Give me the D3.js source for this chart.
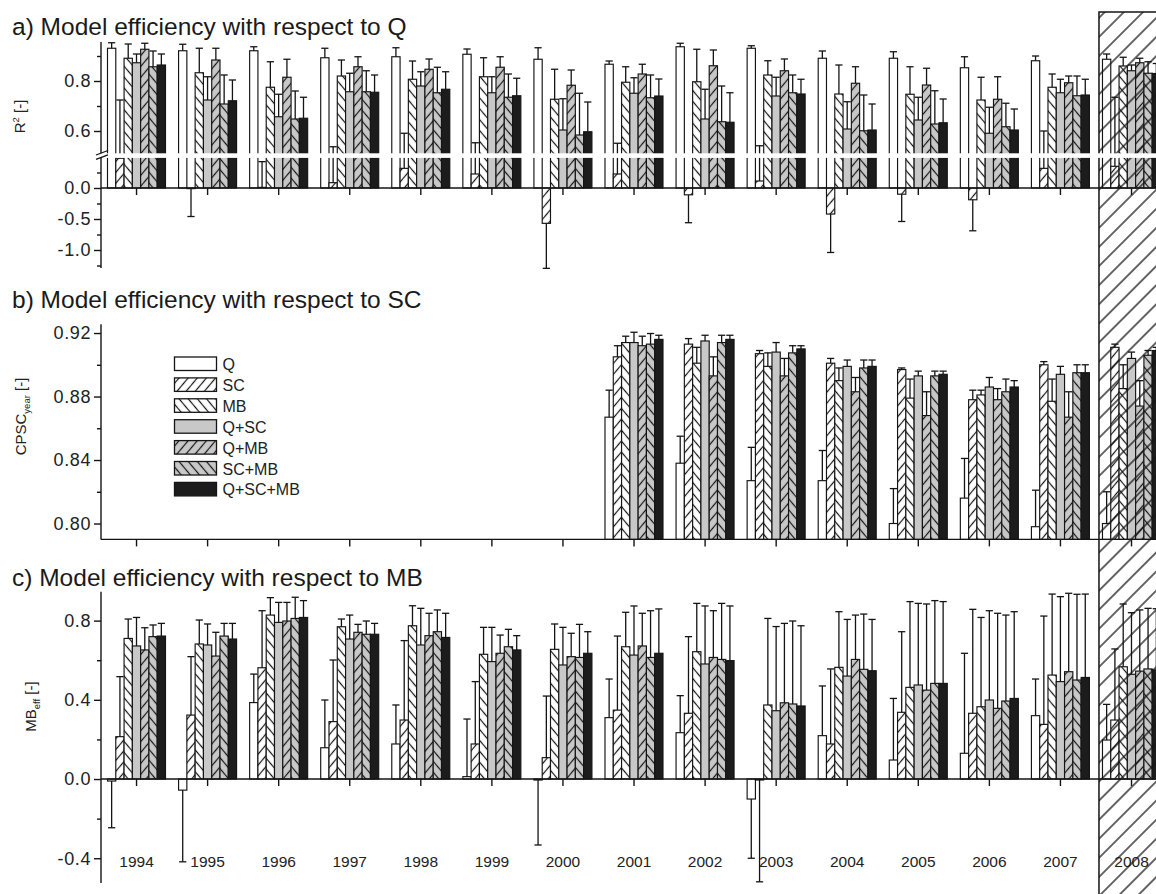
<!DOCTYPE html>
<html>
<head>
<meta charset="utf-8">
<script src="https://cdn.jsdelivr.net/npm/d3@7"></script>
<style>
  body { margin: 0; background: #fff; }
  svg { display: block; font-family: "Liberation Sans", Arial, Helvetica, sans-serif; }
</style>
</head>
<body>
<svg id="chart" width="1156" height="894"></svg>
<script>
// ---------- data ----------
const years = [1994, 1995, 1996, 1997, 1998, 1999, 2000, 2001, 2002, 2003, 2004, 2005, 2006, 2007, 2008];
const seriesNames = ["Q", "SC", "MB", "Q+SC", "Q+MB", "SC+MB", "Q+SC+MB"];

// a) R² — one row per calibration variant (order of seriesNames), one column per year
const r2Values = [
  [0.931, 0.921, 0.921, 0.893, 0.897, 0.907, 0.887, 0.867, 0.937, 0.931, 0.891, 0.891, 0.853, 0.881, 0.887],
  [0.48, -0.01, 0.01, 0.086, 0.317, 0.226, -0.57, 0.226, -0.11, 0.113, -0.42, -0.10, -0.19, 0.317, 0.35],
  [0.891, 0.833, 0.775, 0.82, 0.807, 0.817, 0.727, 0.795, 0.797, 0.824, 0.748, 0.747, 0.724, 0.775, 0.86],
  [0.873, 0.724, 0.657, 0.757, 0.78, 0.753, 0.604, 0.751, 0.648, 0.74, 0.608, 0.644, 0.591, 0.753, 0.841],
  [0.927, 0.884, 0.815, 0.857, 0.847, 0.855, 0.783, 0.828, 0.861, 0.841, 0.791, 0.784, 0.727, 0.793, 0.873],
  [0.857, 0.708, 0.648, 0.757, 0.753, 0.735, 0.584, 0.733, 0.637, 0.753, 0.601, 0.628, 0.617, 0.741, 0.831],
  [0.864, 0.721, 0.651, 0.755, 0.767, 0.741, 0.597, 0.74, 0.635, 0.748, 0.604, 0.633, 0.604, 0.744, 0.83]
];
// end value of each error bar
const r2ErrEnd = [
  [0.953, 0.947, 0.937, 0.931, 0.933, 0.928, 0.933, 0.88, 0.951, 0.941, 0.92, 0.917, 0.897, 0.90, 0.908],
  [0.724, -0.46, 0.425, 0.537, 0.591, 0.553, -1.296, 0.551, -0.56, 0.541, -1.04, -0.54, -0.69, 0.60, 0.735],
  [0.948, 0.931, 0.877, 0.884, 0.88, 0.893, 0.847, 0.857, 0.927, 0.881, 0.864, 0.857, 0.815, 0.828, 0.895],
  [0.908, 0.817, 0.747, 0.831, 0.837, 0.817, 0.729, 0.813, 0.767, 0.815, 0.717, 0.735, 0.695, 0.807, 0.864],
  [0.951, 0.931, 0.887, 0.897, 0.888, 0.897, 0.844, 0.867, 0.924, 0.888, 0.857, 0.851, 0.817, 0.82, 0.891],
  [0.92, 0.824, 0.76, 0.841, 0.855, 0.828, 0.751, 0.824, 0.78, 0.824, 0.744, 0.761, 0.711, 0.82, 0.877],
  [0.908, 0.804, 0.735, 0.824, 0.837, 0.811, 0.716, 0.808, 0.753, 0.807, 0.708, 0.728, 0.688, 0.807, 0.87]
];

// b) CPSC_year — no SC observations before 2001
const cpscValues = [
  [null, null, null, null, null, null, null, 0.867, 0.838, 0.827, 0.827, 0.800, 0.816, 0.798, 0.800],
  [null, null, null, null, null, null, null, 0.905, 0.913, 0.907, 0.901, 0.897, 0.878, 0.900, 0.911],
  [null, null, null, null, null, null, null, 0.914, 0.901, 0.899, 0.890, 0.879, 0.881, 0.877, 0.885],
  [null, null, null, null, null, null, null, 0.914, 0.915, 0.908, 0.899, 0.893, 0.886, 0.894, 0.904],
  [null, null, null, null, null, null, null, 0.912, 0.893, 0.893, 0.883, 0.868, 0.878, 0.867, 0.874],
  [null, null, null, null, null, null, null, 0.913, 0.914, 0.9075, 0.898, 0.893, 0.883, 0.895, 0.906],
  [null, null, null, null, null, null, null, 0.916, 0.916, 0.910, 0.899, 0.894, 0.886, 0.895, 0.909]
];
const cpscErrEnd = [
  [null, null, null, null, null, null, null, 0.884, 0.855, 0.848, 0.846, 0.822, 0.841, 0.821, 0.820],
  [null, null, null, null, null, null, null, 0.912, 0.9165, 0.909, 0.904, 0.898, 0.884, 0.902, 0.913],
  [null, null, null, null, null, null, null, 0.918, 0.911, 0.9075, 0.898, 0.891, 0.884, 0.891, 0.900],
  [null, null, null, null, null, null, null, 0.9205, 0.9186, 0.914, 0.903, 0.896, 0.892, 0.899, 0.908],
  [null, null, null, null, null, null, null, 0.918, 0.905, 0.904, 0.892, 0.883, 0.885, 0.883, 0.890],
  [null, null, null, null, null, null, null, 0.9197, 0.9186, 0.912, 0.903, 0.896, 0.891, 0.900, 0.909],
  [null, null, null, null, null, null, null, 0.9186, 0.9186, 0.912, 0.903, 0.896, 0.890, 0.900, 0.911]
];

// c) MB_eff
const mbValues = [
  [-0.01, -0.056, 0.386, 0.158, 0.177, 0.012, -0.005, 0.31, 0.234, -0.101, 0.219, 0.096, 0.13, 0.32, 0.197],
  [0.214, 0.323, 0.562, 0.29, 0.298, 0.177, 0.108, 0.348, 0.332, -0.005, 0.177, 0.337, 0.332, 0.276, 0.298],
  [0.71, 0.682, 0.828, 0.769, 0.774, 0.63, 0.655, 0.668, 0.643, 0.374, 0.564, 0.463, 0.365, 0.525, 0.567],
  [0.672, 0.677, 0.791, 0.707, 0.677, 0.593, 0.576, 0.626, 0.581, 0.345, 0.52, 0.475, 0.399, 0.492, 0.529],
  [0.652, 0.621, 0.798, 0.741, 0.724, 0.635, 0.618, 0.672, 0.614, 0.385, 0.604, 0.449, 0.357, 0.542, 0.545],
  [0.719, 0.722, 0.811, 0.731, 0.744, 0.668, 0.614, 0.614, 0.604, 0.379, 0.554, 0.483, 0.394, 0.5, 0.556],
  [0.722, 0.707, 0.816, 0.731, 0.715, 0.652, 0.635, 0.635, 0.598, 0.369, 0.547, 0.483, 0.407, 0.513, 0.551]
];
const mbErrEnd = [
  [-0.246, -0.418, 0.53, 0.399, 0.374, 0.303, -0.333, 0.505, 0.421, -0.40, 0.47, 0.407, 0.635, 0.505, 0.377],
  [0.517, 0.618, 0.85, 0.601, 0.699, 0.492, 0.419, 0.722, 0.719, -0.519, 0.556, 0.744, 0.857, 0.823, 0.657],
  [0.808, 0.803, 0.916, 0.808, 0.875, 0.766, 0.783, 0.842, 0.887, 0.811, 0.845, 0.896, 0.816, 0.934, 0.884],
  [0.816, 0.783, 0.892, 0.828, 0.862, 0.766, 0.766, 0.874, 0.874, 0.77, 0.806, 0.887, 0.85, 0.921, 0.84],
  [0.764, 0.741, 0.892, 0.781, 0.837, 0.727, 0.736, 0.837, 0.85, 0.786, 0.828, 0.884, 0.837, 0.938, 0.854],
  [0.778, 0.786, 0.918, 0.798, 0.854, 0.756, 0.781, 0.85, 0.887, 0.798, 0.833, 0.901, 0.828, 0.933, 0.862],
  [0.786, 0.786, 0.901, 0.786, 0.837, 0.724, 0.744, 0.859, 0.874, 0.774, 0.806, 0.896, 0.845, 0.934, 0.86]
];

const validationYear = 2008;

// ---------- setup ----------
const svg = d3.select("#chart");
const defs = svg.append("defs");
const INK = "#141414";
const GREY = "#c8c8c8";

function hatchPattern(id, angle, spacing, bg, sw) {
  const p = defs.append("pattern")
    .attr("id", id)
    .attr("patternUnits", "userSpaceOnUse")
    .attr("width", spacing).attr("height", spacing)
    .attr("patternTransform", `rotate(${angle})`);
  if (bg) p.append("rect").attr("width", spacing).attr("height", spacing).attr("fill", bg);
  p.append("line")
    .attr("x1", spacing / 2).attr("y1", -1)
    .attr("x2", spacing / 2).attr("y2", spacing + 1)
    .attr("stroke", INK).attr("stroke-width", sw);
}
hatchPattern("pSC", 40, 7, "#fff", 1.2);
hatchPattern("pMB", -40, 7, "#fff", 1.2);
hatchPattern("pQMB", 40, 7, GREY, 1.2);
hatchPattern("pSCMB", -40, 7, GREY, 1.2);
hatchPattern("pRegion", 45, 13.5, null, 1.3);

const fills = ["#fff", "url(#pSC)", "url(#pMB)", GREY, "url(#pQMB)", "url(#pSCMB)", "#1c1c1c"];

const x0 = d3.scaleBand().domain(years).range([101, 101 + 15 * 71.07]).padding(0);
const x1 = d3.scaleBand().domain(seriesNames).range([6.5, 64.5]).padding(0);
const xLeft = 101, xRight = 1156;

// panel a: broken axis, two linear pieces
const yUp = d3.scaleLinear().domain([0.5, 0.956]).range([156, 42]);
const yLo = d3.scaleLinear().domain([-1.3, 0.5]).range([268.6, 157]);
const yA = v => (v >= 0.5 ? yUp(v) : yLo(v));

const yB = d3.scaleLinear().domain([0.79, 0.9255]).range([539.4, 324.3]);
const yC = d3.scaleLinear().domain([-0.525, 0.946]).range([883, 591.7]);

function drawBars(g, yFn, base, vals, errs) {
  const y0 = yFn(base);
  seriesNames.forEach((s, si) => {
    const data = years.map((yr, i) => ({ yr, v: vals[si][i], e: errs[si][i] })).filter(d => d.v !== null);
    const grp = g.append("g");
    grp.selectAll("rect").data(data).join("rect")
      .attr("x", d => x0(d.yr) + x1(s))
      .attr("width", x1.bandwidth())
      .attr("y", d => Math.min(y0, yFn(d.v)))
      .attr("height", d => Math.abs(yFn(d.v) - y0))
      .attr("fill", fills[si])
      .attr("stroke", INK).attr("stroke-width", 1.15);
  });
  seriesNames.forEach((s, si) => {
    const data = years.map((yr, i) => ({ yr, v: vals[si][i], e: errs[si][i] })).filter(d => d.v !== null && d.e !== null);
    const cx = d => x0(d.yr) + x1(s) + x1.bandwidth() / 2;
    const eg = g.append("g").attr("stroke", INK).attr("stroke-width", 1.3);
    eg.selectAll("line.stem").data(data).join("line").attr("class", "stem")
      .attr("x1", cx).attr("x2", cx)
      .attr("y1", d => yFn(d.v)).attr("y2", d => yFn(d.e));
    eg.selectAll("line.cap").data(data).join("line").attr("class", "cap")
      .attr("x1", d => cx(d) - 3.6).attr("x2", d => cx(d) + 3.6)
      .attr("y1", d => yFn(d.e)).attr("y2", d => yFn(d.e));
  });
}

const gA = svg.append("g");
const gB = svg.append("g");
const gC = svg.append("g");

drawBars(gA, yA, 0, r2Values, r2ErrEnd);
drawBars(gB, yB, 0.79, cpscValues, cpscErrEnd);
drawBars(gC, yC, 0, mbValues, mbErrEnd);

// shaded validation year
const vx = x0(validationYear) + 3;
svg.append("rect")
  .attr("x", vx).attr("y", 12)
  .attr("width", 120).attr("height", 900)
  .attr("fill", "url(#pRegion)")
  .attr("stroke", INK).attr("stroke-width", 1.5);

// ---------- axes ----------
const fmt1 = d => d.toFixed(1);
const fmt2 = d => d.toFixed(2);

function yAxis(g, scale, major, minor, fmt, top, bottom) {
  g.append("line").attr("x1", xLeft).attr("x2", xLeft).attr("y1", top).attr("y2", bottom)
    .attr("stroke", INK).attr("stroke-width", 1.4);
  const ax = g.append("g").attr("transform", `translate(${xLeft},0)`)
    .call(d3.axisLeft(scale).tickValues(major).tickSize(7).tickPadding(3).tickFormat(fmt));
  ax.select(".domain").remove();
  ax.selectAll("line").attr("stroke", INK).attr("stroke-width", 1.4);
  ax.selectAll("text").attr("font-size", 18).attr("fill", "#222").attr("letter-spacing", 0.6)
    .attr("font-family", "'Liberation Sans', Arial, sans-serif");
  const mn = g.append("g").attr("transform", `translate(${xLeft},0)`)
    .call(d3.axisLeft(scale).tickValues(minor).tickSize(4).tickFormat(""));
  mn.select(".domain").remove();
  mn.selectAll("line").attr("stroke", INK).attr("stroke-width", 1.4);
}

function xAxis(g, y) {
  const ax = g.append("g").attr("transform", `translate(0,${y})`)
    .call(d3.axisBottom(x0).tickSize(7).tickSizeOuter(0).tickFormat(""));
  ax.select(".domain").remove();
  ax.selectAll("line").attr("stroke", INK).attr("stroke-width", 1.4);
  g.append("line").attr("x1", xLeft).attr("x2", xRight).attr("y1", y).attr("y2", y)
    .attr("stroke", INK).attr("stroke-width", 1.4);
}

// panel a
yAxis(gA, yUp, [0.6, 0.8], [0.7, 0.9], fmt1, 42, 156);
yAxis(gA, yLo, [-1.0, -0.5, 0.0], [-1.25, -0.75, -0.25, 0.25], fmt1, 157, 268);
xAxis(gA, yLo(0));
// axis break
svg.append("rect").attr("x", xLeft - 1).attr("y", 153.3).attr("width", xRight - xLeft + 1).attr("height", 4.6).attr("fill", "#fff");
svg.append("g").attr("stroke", INK).attr("stroke-width", 1.3)
  .selectAll("line").data([0, 4.4]).join("line")
  .attr("x1", 96).attr("x2", 108)
  .attr("y1", d => 155 + d).attr("y2", d => 150.5 + d);

// panel b
yAxis(gB, yB, [0.80, 0.84, 0.88, 0.92], [0.82, 0.86, 0.90], fmt2, 324.3, 539.4);
xAxis(gB, yB(0.79));

// panel c
yAxis(gC, yC, [-0.4, 0.0, 0.4, 0.8], [-0.2, 0.2, 0.6], fmt1, 591.7, 883);
xAxis(gC, yC(0));
gC.append("g").selectAll("text").data(years).join("text")
  .attr("x", d => x0(d) + x0.bandwidth() / 2)
  .attr("y", 867)
  .attr("text-anchor", "middle")
  .attr("font-size", 15.5)
  .attr("fill", "#222")
  .text(d => d);

// ---------- titles ----------
const titles = [
  { t: "a) Model efficiency with respect to Q", y: 34.5 },
  { t: "b) Model efficiency with respect to SC", y: 307.5 },
  { t: "c) Model efficiency with respect to MB", y: 586 }
];
svg.append("g").selectAll("text").data(titles).join("text")
  .attr("x", 12).attr("y", d => d.y)
  .attr("font-size", 24.5).attr("fill", "#1a1a1a")
  .text(d => d.t);

function axisTitle(x, y, main, sub, supMode) {
  const t = svg.append("text")
    .attr("transform", `translate(${x},${y}) rotate(-90)`)
    .attr("text-anchor", "middle")
    .attr("font-size", 15).attr("fill", "#222");
  t.append("tspan").text(main);
  t.append("tspan").attr("font-size", 9.5).attr("dy", supMode ? -6 : 4).text(sub);
  t.append("tspan").attr("dy", supMode ? 6 : -4).text(" [-]");
}
axisTitle(25, 116.5, "R", "2", true);
axisTitle(26, 416.5, "CPSC", "year", false);
axisTitle(36, 706.5, "MB", "eff", false);

// ---------- legend ----------
const legend = svg.append("g").attr("transform", "translate(174.5,357)");
seriesNames.forEach((s, i) => {
  const row = legend.append("g").attr("transform", `translate(0,${i * 20.9})`);
  row.append("rect").attr("width", 42).attr("height", 13.5)
    .attr("fill", fills[i]).attr("stroke", INK).attr("stroke-width", 1.3);
  row.append("text").attr("x", 48).attr("y", 13).attr("font-size", 16).attr("fill", "#222").text(s);
});
</script>
</body>
</html>
